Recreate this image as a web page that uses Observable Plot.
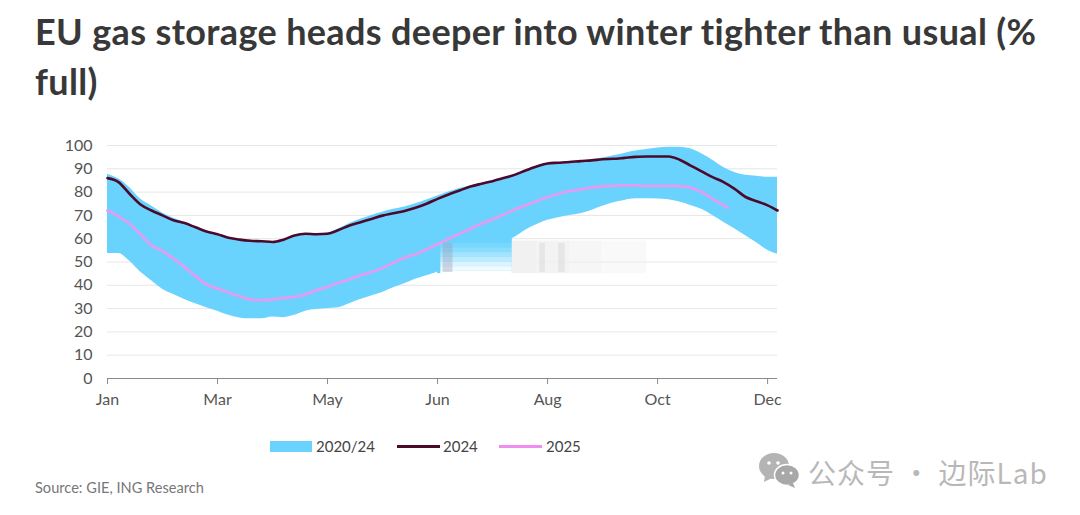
<!DOCTYPE html>
<html><head><meta charset="utf-8">
<script src="https://cdn.jsdelivr.net/npm/d3@7"></script>
<script src="https://cdn.jsdelivr.net/npm/@observablehq/plot@0.6"></script>
<style>
html,body{margin:0;padding:0;background:#fff;width:1080px;height:515px;overflow:hidden}
body{position:relative;font-family:Lato,sans-serif}
h1{position:absolute;left:35px;top:6px;margin:0;width:1020px;font:700 36px/50px Lato,sans-serif;color:#383838;letter-spacing:.35px}
#chart{position:absolute;left:0;top:130px}
.t{position:absolute;white-space:nowrap}
.lg{font-size:15px;color:#444;top:436px;line-height:20px}
.sw{position:absolute}
</style></head><body>
<h1>EU gas storage heads deeper into winter tighter than usual (% full)</h1>
<div id="chart"></div>
<div class="sw" style="left:270px;top:441px;width:42px;height:11px;background:#6ad3fd"></div>
<div class="t lg" style="left:316px">2020/24</div>
<div class="sw" style="left:397px;top:445px;width:43px;height:3px;background:#4b0a2c"></div>
<div class="t lg" style="left:443px">2024</div>
<div class="sw" style="left:499px;top:445px;width:43px;height:3px;background:#f08cf2"></div>
<div class="t lg" style="left:546px">2025</div>
<div class="t" style="left:35px;top:479px;font-size:14.6px;line-height:18px;color:#777">Source: GIE, ING Research</div>
<svg style="position:absolute;left:758px;top:451px" width="44" height="38" viewBox="0 0 44 38">
<ellipse cx="16" cy="15" rx="15" ry="13" fill="#b4b4b4"/><path d="M7 24l-1 7 8-4z" fill="#b4b4b4"/>
<ellipse cx="29" cy="24" rx="12.5" ry="10.5" fill="#a8a8a8" stroke="#fff" stroke-width="1.5"/><path d="M35 32l2 5-7-3z" fill="#a8a8a8"/>
<circle cx="11" cy="12" r="1.8" fill="#fff"/><circle cx="20" cy="12" r="1.8" fill="#fff"/><circle cx="25" cy="22" r="1.5" fill="#fff"/><circle cx="33" cy="22" r="1.5" fill="#fff"/>
</svg>
<div class="t" style="left:808px;top:453px;font:28px/38px 'Noto Sans CJK SC',sans-serif;color:#b8b8b8;letter-spacing:1px">公众号 · 边际Lab</div>
<script>
const monthLabels = ["Jan","Mar","May","Jun","Aug","Oct","Dec"];
const monthTicks = [0,1,2,3,4,5,6];
const steps = [0,.1,.2,.3,.4,.5,.6,.7,.8,.9,1,1.1,1.2,1.3,1.4,1.5,1.6,1.7,1.8,1.9,2,2.1,2.2,2.3,2.4,2.5,2.6,2.7,2.8,2.9,3,3.1,3.2,3.3,3.4,3.5,3.6,3.7,3.8,3.9,4,4.1,4.2,4.3,4.4,4.5,4.6,4.7,4.8,4.9,5,5.1,5.2,5.3,5.4,5.5,5.6,5.7,5.8,5.9,6,6.09];
const bandHigh = [87.7,85.7,82,77,74,71,68.8,67,65,63.2,62,60.5,59.7,59.2,59,58.7,59.7,61.5,62.2,62,62.4,64.2,66.5,68.3,70,71.4,72.6,73.6,75,76.6,78.3,80,81.5,82.6,83.7,84.8,86.1,87.5,89.4,91.1,92.4,92.7,93,93.4,93.8,94.6,95.6,96.6,97.6,98.3,98.9,99.3,99.3,98.6,96.5,93.7,90.6,88.4,87.2,86.8,86.4,86.4];
const bandLow = [53.6,53.6,50.4,45.7,41.9,38.3,36,33.9,32.1,30.4,28.9,27.1,26,25.6,25.6,26.4,26.1,27.1,28.9,29.6,30,30.4,32.1,33.9,35.4,36.9,38.9,40.7,42.6,44.1,45.7,48.5,50.5,52.5,54.5,56.5,58.5,60.5,63.6,66,67.9,69,70,70.7,72.1,73.9,75.4,76.4,77.1,77.1,77,76.7,75.7,74.3,72.6,70,67.1,64.3,61.3,58.3,55,53.3];
const y2024 = [86,84.3,79.3,74.7,72.1,70,67.9,66.7,64.9,63.1,61.9,60.4,59.6,59.1,58.9,58.6,59.6,61.4,62.1,61.9,62.1,63.7,65.7,67.1,68.5,69.9,70.9,71.9,73.3,75,77.1,79,80.7,82.4,83.6,84.7,86,87.4,89.3,91,92.3,92.6,92.9,93.3,93.6,94.1,94.3,94.7,95.1,95.3,95.3,95.3,93.9,91.4,88.9,86.4,84.3,81.4,77.9,76.1,74.3,72.1];
const y2025 = [72.1,69.6,66.4,61.9,57.1,54.7,51.4,47.9,43.9,40.3,38.6,36.9,35.4,33.9,33.6,33.9,34.6,35,36.1,37.9,39.3,41.1,42.6,44.3,45.7,47.4,49.7,51.9,53.3,55.4,57.6,60,62.1,64.3,66.4,68.3,70.3,72.4,74.3,76.1,77.9,79.3,80.4,81.1,81.9,82.4,82.7,82.9,82.9,82.7,82.7,82.7,82.6,81.9,80,77.1,74.3,73.3];
// the blurred patch over the chart
const patchBlue = [{x1:3.0,x2:3.68,y1:45,y2:60.5}];
const patchFade = [44.6,46,48,50,52,54,56].map((v,i,a)=>({x1:3.03,x2:3.68,y1:v,y2:i<a.length-1?a[i+1]:58,o:[1,.9,.75,.55,.38,.22,.1][i]}));
const patchGrey = [[3.68,3.9,.95],[3.9,4.2,.8],[4.2,4.5,.6],[4.5,4.9,.4]].map(([x1,x2,o])=>({x1,x2,y1:45,y2:59,o}));
const patchStripes = [[3.05,3.14,.38,"#9a9ab8"],[3.93,3.98,.35,"#cfcfcf"],[4.1,4.16,.35,"#cfcfcf"]].map(([x1,x2,o,f])=>({x1,x2,y1:45.5,y2:58,o,f}));

const band = steps.map((t,i)=>({t,lo:bandLow[i],hi:bandHigh[i]}));
const line24 = steps.map((t,i)=>({t,v:y2024[i]}));
const line25 = y2025.map((v,i)=>({t:i===57?5.64:steps[i],v}));

const plot = Plot.plot({
  width:1080,height:290,
  marginLeft:107,marginRight:303,marginTop:15,marginBottom:42,
  style:{background:"transparent",fontFamily:"Lato,sans-serif",fontSize:"16px",color:"#555",overflow:"visible"},
  x:{domain:[0,6.09],axis:null},
  y:{domain:[0,100],axis:null},
  marks:[
    Plot.ruleY(d3.range(10,101,10),{stroke:"#e6e6e6",strokeWidth:1}),
    Plot.areaY(band,{x:"t",y1:"lo",y2:"hi",fill:"#6ad3fd",curve:"monotone-x"}),
    Plot.rect(patchBlue,{x1:"x1",x2:"x2",y1:"y1",y2:"y2",fill:"#6ad3fd"}),
    Plot.line(line25,{x:"t",y:"v",stroke:"#e29cf2",strokeWidth:2.8,curve:"monotone-x"}),
    Plot.line(line24,{x:"t",y:"v",stroke:"#4b0a2c",strokeWidth:2.6,curve:"monotone-x"}),
    Plot.rect(patchFade,{x1:"x1",x2:"x2",y1:"y1",y2:"y2",fill:"#fff",fillOpacity:"o"}),
    Plot.rect(patchGrey,{x1:"x1",x2:"x2",y1:"y1",y2:"y2",fill:"#f0f0f0",fillOpacity:"o"}),
    Plot.rect(patchStripes,{x1:"x1",x2:"x2",y1:"y1",y2:"y2",fill:d=>d.f,fillOpacity:"o"}),
    Plot.axisY(d3.range(0,101,10),{anchor:"left",tickSize:0,tickPadding:15,fontSize:16,fill:"#555",label:null}),
    Plot.ruleY([0],{stroke:"#8a8a8a",strokeWidth:1.2}),
    Plot.axisX(monthTicks,{anchor:"bottom",tickSize:6,tickPadding:9,stroke:"#8a8a8a",fill:"#555",fontSize:16,label:null,tickFormat:(d,i)=>monthLabels[i]})
  ]
});
document.getElementById("chart").append(plot);
</script>
</body></html>
